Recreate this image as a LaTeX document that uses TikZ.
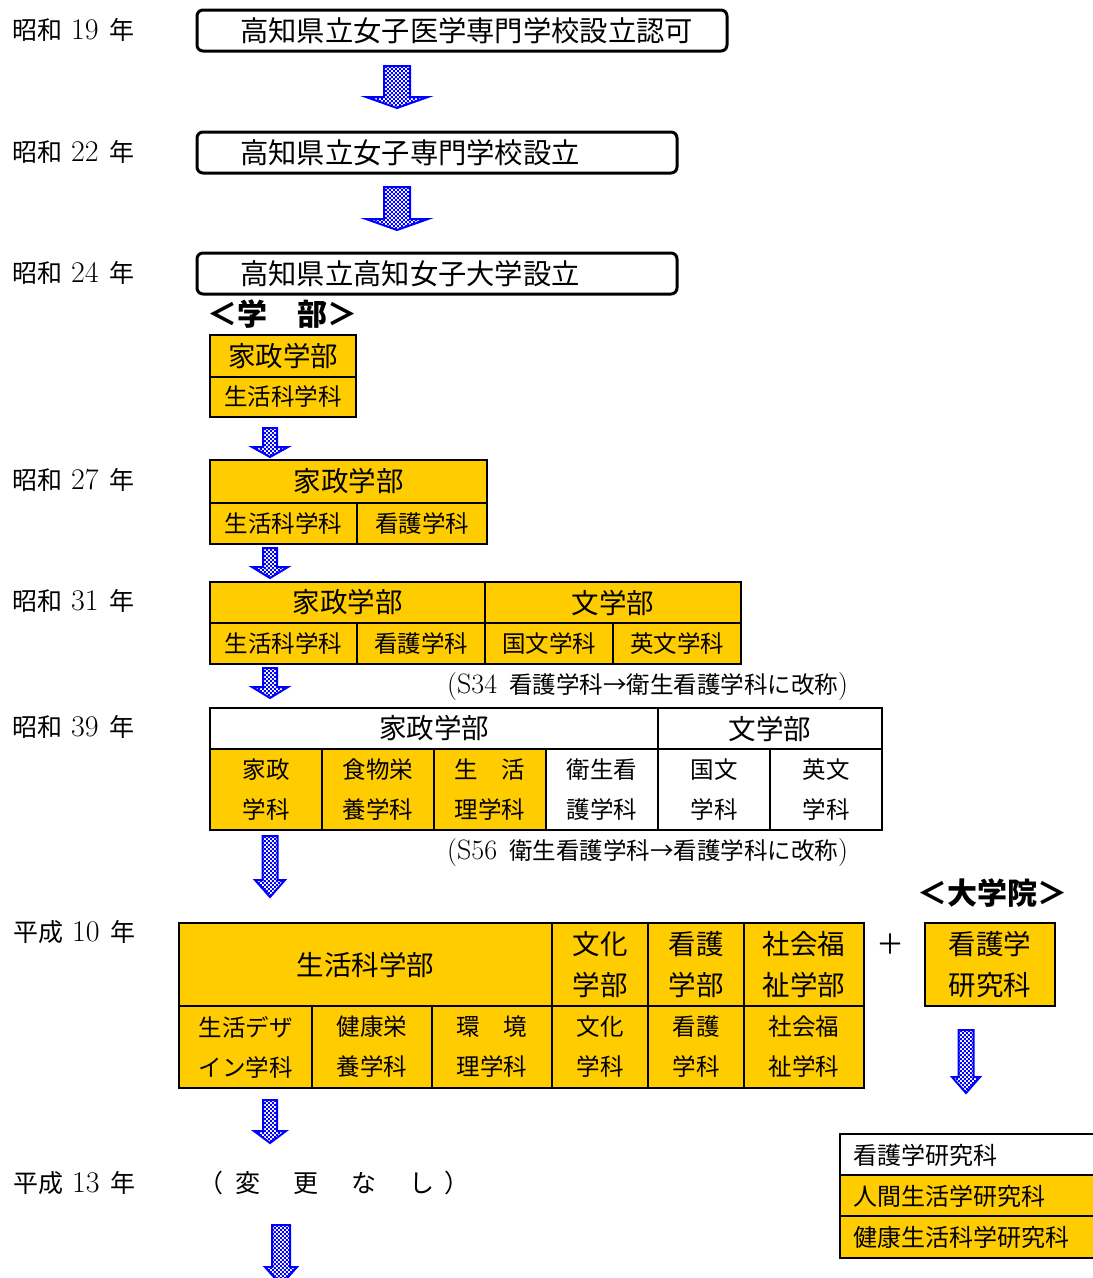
\documentclass[tikz,border=0pt]{standalone}
\usepackage{fontspec}
\newfontfamily\jp{Noto Sans CJK JP}
\usetikzlibrary{patterns}
\definecolor{yel}{HTML}{FFCC00}
\pgfdeclarepatternformonly{midchecker}{\pgfqpoint{0pt}{0pt}}{\pgfqpoint{4.4pt}{4.4pt}}{\pgfqpoint{4.4pt}{4.4pt}}{%
  \pgfpathrectangle{\pgfpointorigin}{\pgfqpoint{2.2pt}{2.2pt}}%
  \pgfpathrectangle{\pgfqpoint{2.2pt}{2.2pt}}{\pgfqpoint{2.2pt}{2.2pt}}%
  \pgfusepath{fill}}
\tikzset{
  yl/.style={anchor=west, inner sep=0pt, font=\jp\fontsize{25}{25}\selectfont},
  rbox/.style={draw, rounded corners=6pt, line width=3pt, inner sep=0pt},
  btxt/.style={anchor=west, inner sep=0pt, font=\jp\fontsize{28.3}{28.3}\selectfont},
  cellbase/.style={draw, line width=2.5pt, inner sep=0pt, align=center},
  hd/.style={font=\jp\fontsize{27.5}{41}\selectfont},
  sub/.style={font=\jp\fontsize{23.5}{40}\selectfont},
  gtxt/.style={anchor=west, inner sep=0pt, font=\jp\fontsize{24}{24}\selectfont},
  note/.style={anchor=west, inner sep=0pt, font=\jp\fontsize{23.5}{23.5}\selectfont},
  ttl/.style={inner sep=0pt, font=\jp\bfseries\fontsize{30}{30}\selectfont},
  barrowsty/.style={draw=blue, line width=2pt, line join=miter, pattern=midchecker, pattern color=blue},
}
\newcommand\tcell[8]{%
  \pgfmathsetmacro\tcw{#4-#2}\pgfmathsetmacro\tch{#5-#3}%
  \node[cellbase, fill=#6, #7, minimum width=\tcw pt, minimum height=\tch pt] (#1) at ({(#2+#4)/2},{(#3+#5)/2}) {#8};}
\newcommand\barrow[6]{% cx ytop yhead ytip halfshaft halfwing
  \fill[white] ({#1-#5},#2) -- ({#1+#5},#2) -- ({#1+#5},#3) -- ({#1+#6},#3) -- (#1,#4) -- ({#1-#6},#3) -- ({#1-#5},#3) -- cycle;
  \draw[barrowsty] ({#1-#5},#2) -- ({#1+#5},#2) -- ({#1+#5},#3) -- ({#1+#6},#3) -- (#1,#4) -- ({#1-#6},#3) -- ({#1-#5},#3) -- cycle;}
\newcommand\lmn[1]{{\rmfamily\fontsize{30}{30}\selectfont #1}}
\newcommand\lmm[1]{{\rmfamily\fontsize{28}{28}\selectfont #1}}
\begin{document}
\begin{tikzpicture}[x=1pt,y=-1pt]
\path[use as bounding box, clip] (0,0) rectangle (1093,1278);
\fill[white] (0,0) rectangle (1093,1278);

% year labels
\node[yl] (y19) at (12,30) {昭和\hspace{9pt}\lmn{19}\hspace{11pt}年};
\node[yl] (y22) at (12,152) {昭和\hspace{9pt}\lmn{22}\hspace{11pt}年};
\node[yl] (y24) at (12,273) {昭和\hspace{9pt}\lmn{24}\hspace{11pt}年};
\node[yl] (y27) at (12,480) {昭和\hspace{9pt}\lmn{27}\hspace{11pt}年};
\node[yl] (y31) at (12,601) {昭和\hspace{9pt}\lmn{31}\hspace{11pt}年};
\node[yl] (y39) at (12,727) {昭和\hspace{9pt}\lmn{39}\hspace{11pt}年};
\node[yl] (h10) at (13,932) {平成\hspace{9pt}\lmn{10}\hspace{11pt}年};
\node[yl] (h13) at (13,1183) {平成\hspace{9pt}\lmn{13}\hspace{11pt}年};

% rounded boxes
\node[rbox, minimum width=530pt, minimum height=41pt] (box1) at (462,30.5) {};
\node[btxt] (box1t) at (240,31) {高知県立女子医学専門学校設立認可};
\node[rbox, minimum width=480pt, minimum height=41pt] (box2) at (437,152.5) {};
\node[btxt] (box2t) at (240,153) {高知県立女子専門学校設立};
\node[rbox, minimum width=480pt, minimum height=41pt] (box3) at (437,273.5) {};
\node[btxt] (box3t) at (240,274) {高知県立高知女子大学設立};

\node[ttl] (gakubu) at (282,314) {＜学　部＞};

% S24
\tcell{a1}{210}{335}{356}{377}{yel}{hd}{家政学部}
\tcell{a2}{210}{377}{356}{417}{yel}{sub}{生活科学科}
% S27
\tcell{b1}{210}{460}{487}{503}{yel}{hd}{家政学部}
\tcell{b2}{210}{503}{357}{544}{yel}{sub}{生活科学科}
\tcell{b3}{357}{503}{487}{544}{yel}{sub}{看護学科}
% S31
\tcell{c1}{210}{582}{485}{623}{yel}{hd}{家政学部}
\tcell{c2}{485}{582}{741}{623}{yel}{hd}{文学部}
\tcell{c3}{210}{623}{357}{664}{yel}{sub}{生活科学科}
\tcell{c4}{357}{623}{485}{664}{yel}{sub}{看護学科}
\tcell{c5}{485}{623}{613}{664}{yel}{sub}{国文学科}
\tcell{c6}{613}{623}{741}{664}{yel}{sub}{英文学科}
% S39
\tcell{d1}{210}{708}{658}{749}{white}{hd}{家政学部}
\tcell{d2}{658}{708}{882}{749}{white}{hd}{文学部}
\tcell{d3}{210}{749}{322}{830}{yel}{sub}{家政\\学科}
\tcell{d4}{322}{749}{434}{830}{yel}{sub}{食物栄\\養学科}
\tcell{d5}{434}{749}{546}{830}{yel}{sub}{生　活\\理学科}
\tcell{d6}{546}{749}{658}{830}{white}{sub}{衛生看\\護学科}
\tcell{d7}{658}{749}{770}{830}{white}{sub}{国文\\学科}
\tcell{d8}{770}{749}{882}{830}{white}{sub}{英文\\学科}
% H10
\tcell{e1}{179}{923}{552}{1006}{yel}{hd}{生活科学部}
\tcell{e2}{552}{923}{648}{1006}{yel}{hd}{文化\\学部}
\tcell{e3}{648}{923}{744}{1006}{yel}{hd}{看護\\学部}
\tcell{e4}{744}{923}{864}{1006}{yel}{hd}{社会福\\祉学部}
\tcell{e5}{179}{1006}{312}{1088}{yel}{sub}{生活デザ\\イン学科}
\tcell{e6}{312}{1006}{432}{1088}{yel}{sub}{健康栄\\養学科}
\tcell{e7}{432}{1006}{552}{1088}{yel}{sub}{環　境\\理学科}
\tcell{e8}{552}{1006}{648}{1088}{yel}{sub}{文化\\学科}
\tcell{e9}{648}{1006}{744}{1088}{yel}{sub}{看護\\学科}
\tcell{e10}{744}{1006}{864}{1088}{yel}{sub}{社会福\\祉学科}

\node[inner sep=0pt, font=\jp\fontsize{28}{28}\selectfont] (plus) at (890,944) {＋};
\node[ttl] (daigakuin) at (992,893) {＜大学院＞};
\tcell{g1}{925}{923}{1055}{1006}{yel}{hd}{看護学\\研究科}

% graduate schools
\tcell{r1}{840}{1134}{1110}{1175}{white}{}{}
\tcell{r2}{840}{1175}{1110}{1216}{yel}{}{}
\tcell{r3}{840}{1216}{1110}{1258}{yel}{}{}
\node[gtxt] (r1t) at (853,1155) {看護学研究科};
\node[gtxt] (r2t) at (853,1196) {人間生活学研究科};
\node[gtxt] (r3t) at (853,1237) {健康生活科学研究科};

% notes
\node[note] (n1) at (447,687) {\lmm{(S34}\hspace{12pt}看護学科→衛生看護学科に改称\lmm{)}};
\node[note] (n2) at (447,853) {\lmm{(S56}\hspace{12pt}衛生看護学科→看護学科に改称\lmm{)}};

\node[yl] (nochange) at (198,1183) {（\hspace{12pt}変\hspace{33pt}更\hspace{33pt}な\hspace{33pt}し\hspace{10pt}）};

% block arrows
\barrow{397}{66}{97}{108}{13}{31}
\barrow{397}{187}{219}{230}{13}{31}
\barrow{270}{428}{447}{457}{7}{18}
\barrow{270}{548}{567}{578}{7}{18}
\barrow{270}{668}{687}{698}{7}{18}
\barrow{270}{836}{880}{897}{7.5}{15}
\barrow{966}{1030}{1077}{1093}{7.5}{14}
\barrow{270}{1100}{1131}{1143}{7}{16}
\barrow{281}{1225}{1267}{1285}{9}{16}
\end{tikzpicture}
\end{document}
